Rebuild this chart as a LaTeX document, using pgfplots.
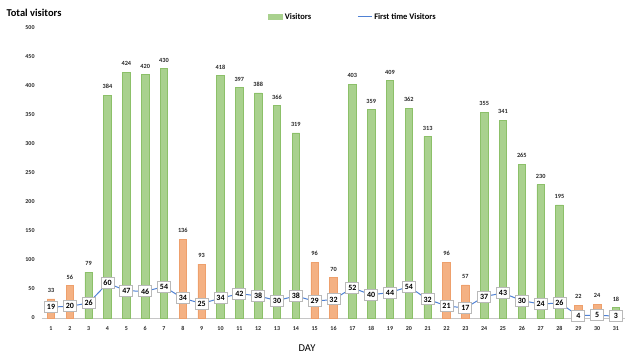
\documentclass[border=0pt]{standalone}
\usepackage{pgfplots}
\pgfplotsset{compat=1.18}
\usepackage{fontspec}
\setmainfont{Carlito}
\definecolor{gfill}{RGB}{169,209,142}
\definecolor{gdraw}{RGB}{140,192,105}
\definecolor{ofill}{RGB}{244,177,131}
\definecolor{odraw}{RGB}{238,160,108}
\definecolor{lineblue}{RGB}{79,129,212}
\definecolor{txt}{RGB}{40,40,40}
\begin{document}
\begin{tikzpicture}
\useasboundingbox (0,0) rectangle (631pt,362pt);
\begin{axis}[
  at={(41.6pt,44pt)}, anchor=south west,
  scale only axis, width=583.8pt, height=290pt,
  xmin=0.5, xmax=31.5, ymin=0, ymax=500,
  axis x line*=bottom, axis y line*=left,
  y axis line style={draw=none},
  x axis line style={draw=gray!45, line width=0.8pt, -},
  xtick={1,...,31}, ytick={0,50,...,500},
  major tick length=0pt,
  /pgf/number format/assume math mode=true,
  xticklabel style={font=\fontsize{6}{7}\selectfont\bfseries, text=txt, yshift=-5pt},
  yticklabel style={font=\fontsize{6}{7}\selectfont\bfseries, text=txt, xshift=-3.5pt},
  xlabel={DAY},
  xlabel style={font=\fontsize{10.5}{12}\selectfont, at={(axis description cs:0.4546,0)}, anchor=center, yshift=-30pt},
  ylabel={Total visitors},
  ylabel style={font=\fontsize{10.5}{12}\selectfont\bfseries, rotate=-90, at={(axis description cs:0,1)}, anchor=west, xshift=-38.6pt, yshift=15pt},
  legend style={draw=none, fill=none, at={(axis description cs:0.388,1.038)}, anchor=west,
    font=\fontsize{8.5}{9}\selectfont\bfseries, inner sep=0pt,
    /tikz/every even column/.append style={column sep=44pt}},
  legend columns=2,
  legend cell align=left,
  clip=false,
]
\addplot[ybar, bar width=7.5pt, bar shift=0pt, fill=gfill, draw=gdraw, line width=0.6pt,
  nodes near coords, nodes near coords style={font=\fontsize{6.3}{7}\selectfont\bfseries, text=txt, inner sep=0pt, anchor=south, yshift=6pt},
  area legend, legend image code/.code={\fill[gfill] (0pt,-2.5pt) rectangle (14pt,2.5pt);}]
coordinates {(3,79)(4,384)(5,424)(6,420)(7,430)(10,418)(11,397)(12,388)(13,366)(14,319)(17,403)(18,359)(19,409)(20,362)(21,313)(24,355)(25,341)(26,265)(27,230)(28,195)(31,18)};
\addlegendentry{Visitors}
\addplot[ybar, bar width=7.5pt, bar shift=0pt, fill=ofill, draw=odraw, line width=0.6pt, forget plot,
  nodes near coords, nodes near coords style={font=\fontsize{6.3}{7}\selectfont\bfseries, text=txt, inner sep=0pt, anchor=south, yshift=6pt}]
coordinates {(1,33)(2,56)(8,136)(9,93)(15,96)(16,70)(22,96)(23,57)(29,22)(30,24)};
\addplot[sharp plot, draw=lineblue, color=lineblue, line width=1pt, mark=none,
  nodes near coords, nodes near coords style={font=\fontsize{8}{9}\selectfont\bfseries, text=black, anchor=center,
    fill=white, draw=gray!55, line width=0.9pt, inner sep=1.6pt, minimum width=13pt, minimum height=11pt},
  legend image code/.code={\draw[draw=lineblue, line width=1pt] (0pt,0pt) -- (14pt,0pt);}]
coordinates {(1,19)(2,20)(3,26)(4,60)(5,47)(6,46)(7,54)(8,34)(9,25)(10,34)(11,42)(12,38)(13,30)(14,38)(15,29)(16,32)(17,52)(18,40)(19,44)(20,54)(21,32)(22,21)(23,17)(24,37)(25,43)(26,30)(27,24)(28,26)(29,4)(30,5)(31,3)};
\addlegendentry{First time Visitors}
\end{axis}
\end{tikzpicture}
\end{document}
